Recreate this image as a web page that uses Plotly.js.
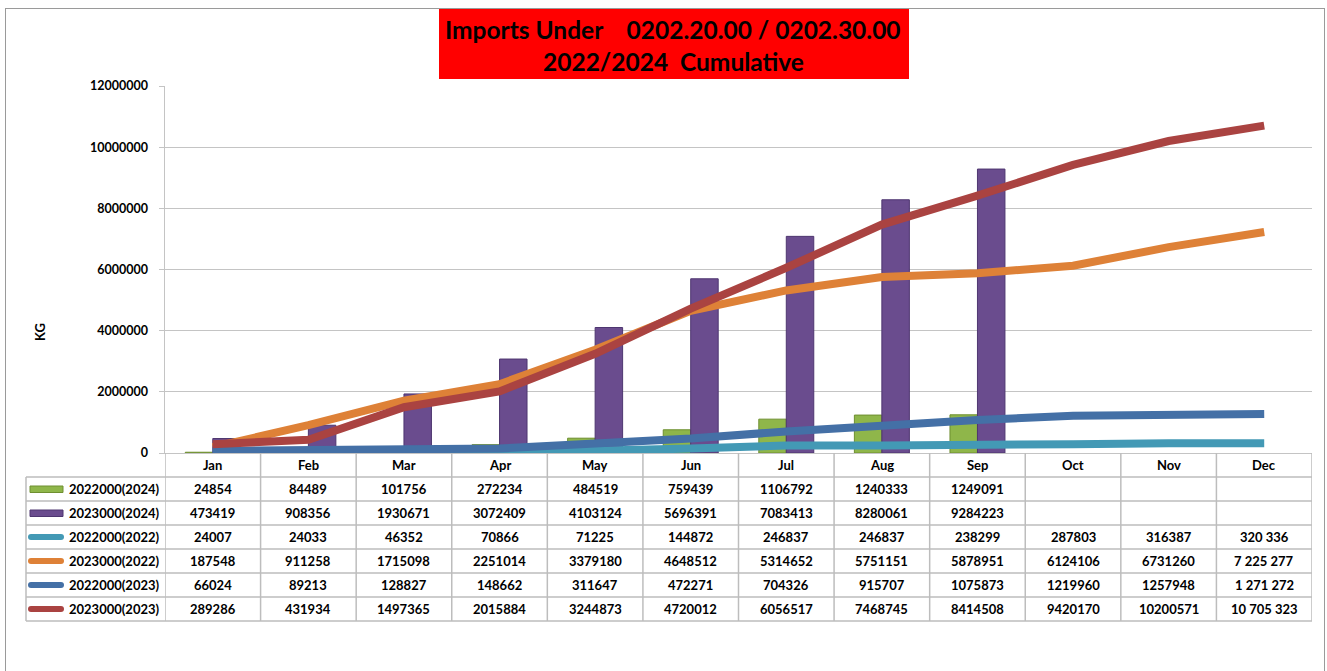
<!DOCTYPE html>
<html>
<head>
<meta charset="utf-8">
<script src="https://cdn.plot.ly/plotly-3.0.1.min.js"></script>
<style>
html,body{margin:0;padding:0;background:#fff;overflow:hidden;}
#wrap{position:relative;width:1327px;height:671px;}
#chart{width:1327px;height:671px;}
#frame{position:absolute;left:5px;top:8px;width:1318px;height:700px;border-left:1.5px solid #9A9A9A;border-top:1.5px solid #9A9A9A;border-right:1.5px solid #9A9A9A;pointer-events:none;}
</style>
</head>
<body>
<div id="wrap"><div id="chart"></div><div id="frame"></div></div>
<script>
// ---------- DATA ----------
const months = ['Jan','Feb','Mar','Apr','May','Jun','Jul','Aug','Sep','Oct','Nov','Dec'];
const s2022_2024 = [24854, 84489, 101756, 272234, 484519, 759439, 1106792, 1240333, 1249091, null, null, null];
const s2023_2024 = [473419, 908356, 1930671, 3072409, 4103124, 5696391, 7083413, 8280061, 9284223, null, null, null];
const s2022_2022 = [24007, 24033, 46352, 70866, 71225, 144872, 246837, 246837, 238299, 287803, 316387, 320336];
const s2023_2022 = [187548, 911258, 1715098, 2251014, 3379180, 4648512, 5314652, 5751151, 5878951, 6124106, 6731260, 7225277];
const s2022_2023 = [66024, 89213, 128827, 148662, 311647, 472271, 704326, 915707, 1075873, 1219960, 1257948, 1271272];
const s2023_2023 = [289286, 431934, 1497365, 2015884, 3244873, 4720012, 6056517, 7468745, 8414508, 9420170, 10200571, 10705323];
const seriesNames = ['2022000(2024)','2023000(2024)','2022000(2022)','2023000(2022)','2022000(2023)','2023000(2023)'];
const yTicks = [0, 2000000, 4000000, 6000000, 8000000, 10000000, 12000000];
const titleLine1 = 'Imports Under\u00A0\u00A0\u00A0\u00A00202.20.00 / 0202.30.00';
const titleLine2 = '2022/2024\u00A0\u00A0Cumulative';
const yTitle = 'KG';

// ---------- STYLE / LAYOUT ----------
const W = 1327, H = 671;
const L = 165, R = 1312, T = 86, B = 453;
const pw = R - L, ph = B - T;
const px = x => (x - L) / pw;
const py = y => (B - y) / ph;
const FONT = 'Lato, "Open Sans", sans-serif';
const colors = {
  green: '#8FB64A', greenLine: '#6E8F30',
  purple: '#6A4C8E', purpleLine: '#4E3670',
  teal: '#4399B5', orange: '#DE8137', blue: '#4470A6', red: '#AA4341'
};
const gridColor = '#C4C4C4';
const tableLine = '#BDBDBD';
const rowH = 24;
const tableLeft = 26;

const allSeries = [s2022_2024, s2023_2024, s2022_2022, s2023_2022, s2022_2023, s2023_2023];
const keyStyles = [
  {type:'bar', fill: colors.green, line: colors.greenLine},
  {type:'bar', fill: colors.purple, line: colors.purpleLine},
  {type:'line', color: colors.teal},
  {type:'line', color: colors.orange},
  {type:'line', color: colors.blue},
  {type:'line', color: colors.red}
];

function fmt(v, i) {
  if (v === null || v === undefined) return '';
  if (i === months.length - 1) return String(v).replace(/\B(?=(\d{3})+(?!\d))/g, ' ');
  return String(v);
}

const LW = 8;
const traces = [
  {type:'bar', x: months, y: s2022_2024, name: seriesNames[0],
   marker:{color: colors.green, line:{color: colors.greenLine, width:1}}},
  {type:'bar', x: months, y: s2023_2024, name: seriesNames[1],
   marker:{color: colors.purple, line:{color: colors.purpleLine, width:1}}},
  {type:'scatter', mode:'lines', x: months, y: s2022_2022, name: seriesNames[2], line:{color: colors.teal, width:LW}},
  {type:'scatter', mode:'lines', x: months, y: s2023_2022, name: seriesNames[3], line:{color: colors.orange, width:LW}},
  {type:'scatter', mode:'lines', x: months, y: s2022_2023, name: seriesNames[4], line:{color: colors.blue, width:LW}},
  {type:'scatter', mode:'lines', x: months, y: s2023_2023, name: seriesNames[5], line:{color: colors.red, width:LW}}
];

const shapes = [];
const annotations = [];

// title box
shapes.push({type:'rect', xref:'paper', yref:'paper', x0: px(439), x1: px(909), y0: py(9), y1: py(79),
  line:{width:0}, fillcolor:'#FF0000', layer:'above'});
annotations.push({xref:'paper', yref:'paper', x: px(673), y: py(29), text: '<b>'+titleLine1+'</b>', showarrow:false,
  font:{family: FONT, size:24.5, color:'#000'}, xanchor:'center', yanchor:'middle'});
annotations.push({xref:'paper', yref:'paper', x: px(673), y: py(61), text: '<b>'+titleLine2+'</b>', showarrow:false,
  font:{family: FONT, size:24.5, color:'#000'}, xanchor:'center', yanchor:'middle'});
// y title
annotations.push({xref:'paper', yref:'paper', x: px(40), y: py(332), text:'<b>'+yTitle+'</b>', textangle:-90, showarrow:false,
  font:{family: FONT, size:13, color:'#000'}, xanchor:'center', yanchor:'middle'});

// table grid
const nRows = allSeries.length;
const tableBottom = B + rowH * (nRows + 1);
for (let i = 0; i <= months.length; i++) {
  shapes.push({type:'line', xref:'x', yref:'paper', x0: i - 0.5, x1: i - 0.5, y0: py(B), y1: py(tableBottom),
    line:{color: tableLine, width:1.5}});
}
shapes.push({type:'line', xref:'paper', yref:'paper', x0: px(tableLeft), x1: px(tableLeft), y0: py(B + rowH), y1: py(tableBottom),
  line:{color: tableLine, width:1.5}});
for (let r = 1; r <= nRows + 1; r++) {
  shapes.push({type:'line', xref:'paper', yref:'paper', x0: px(tableLeft), x1: 1, y0: py(B + rowH*r), y1: py(B + rowH*r),
    line:{color: tableLine, width:1.5}});
}
// header labels
months.forEach(m => {
  annotations.push({xref:'x', yref:'paper', x: m, y: py(B + rowH/2), text:'<b>'+m+'</b>', showarrow:false,
    font:{family: FONT, size:13, color:'#000'}, xanchor:'center', yanchor:'middle'});
});
// rows
allSeries.forEach((arr, r) => {
  const yc = B + rowH*(r+1) + rowH/2;
  const ks = keyStyles[r];
  if (ks.type === 'bar') {
    shapes.push({type:'rect', xref:'paper', yref:'paper', x0: px(30), x1: px(63), y0: py(yc - 3), y1: py(yc + 3.5),
      fillcolor: ks.fill, line:{color: ks.line, width:1}});
  } else {
    shapes.push({type:'line', xref:'paper', yref:'paper', x0: px(31), x1: px(61), y0: py(yc), y1: py(yc),
      line:{color: ks.color, width:6}});
    shapes.push({type:'circle', xref:'paper', yref:'paper', x0: px(28), x1: px(34), y0: py(yc-3), y1: py(yc+3),
      fillcolor: ks.color, line:{width:0}});
    shapes.push({type:'circle', xref:'paper', yref:'paper', x0: px(58), x1: px(64), y0: py(yc-3), y1: py(yc+3),
      fillcolor: ks.color, line:{width:0}});
  }
  annotations.push({xref:'paper', yref:'paper', x: px(67), y: py(yc), text:'<b>'+seriesNames[r]+'</b>', showarrow:false,
    font:{family: FONT, size:13, color:'#000'}, xanchor:'left', yanchor:'middle'});
  arr.forEach((v, i) => {
    const t = fmt(v, i);
    if (!t) return;
    annotations.push({xref:'x', yref:'paper', x: months[i], y: py(yc), text:'<b>'+t+'</b>', showarrow:false,
      font:{family: FONT, size:13, color:'#000'}, xanchor:'center', yanchor:'middle'});
  });
});

const layout = {
  width: W, height: H,
  margin: {l: L, r: W - R, t: T, b: H - B, pad: 0},
  paper_bgcolor: '#fff', plot_bgcolor: '#fff',
  showlegend: false,
  barmode: 'group', bargap: 0.425, bargroupgap: 0,
  font: {family: FONT, size: 12, color: '#000'},
  xaxis: {type:'category', range:[-0.5, 11.5], showticklabels:false, showgrid:false, zeroline:false,
    showline:true, linecolor: gridColor, linewidth:1, ticks:'', fixedrange:true},
  yaxis: {range:[0, 12000000], tickvals: yTicks, ticktext: yTicks.map(String), showgrid:true, gridcolor: gridColor, gridwidth:1,
    zeroline:false, showline:true, linecolor: gridColor, linewidth:1.5, ticks:'outside', ticklen:5, tickcolor: gridColor,
    tickfont:{family: FONT, size:12.5, color:'#000', weight:'bold'}, ticklabelstandoff: 8, fixedrange:true},
  shapes: shapes,
  annotations: annotations
};

Plotly.newPlot('chart', traces, layout, {displayModeBar:false, staticPlot:true});
</script>
</body>
</html>
